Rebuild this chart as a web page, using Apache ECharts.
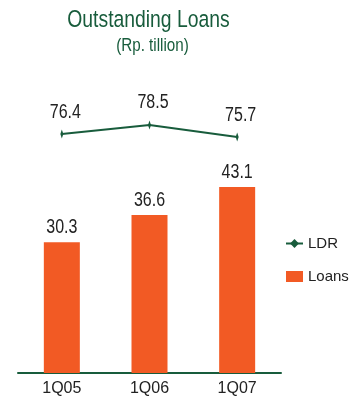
<!DOCTYPE html>
<html>
<head>
<meta charset="utf-8">
<script src="https://cdn.jsdelivr.net/npm/echarts@6/dist/echarts.min.js"></script>
<style>
html,body{margin:0;padding:0;background:#fff;}
#c{width:358px;height:400px;}
</style>
</head>
<body>
<div id="c"></div>
<script>
var categories = ['1Q05', '1Q06', '1Q07'];
var loans = [30.3, 36.6, 43.1];
var ldr = [76.4, 78.5, 75.7];

var FONT = '"Liberation Sans", Arial, sans-serif';
var GREEN = '#185c3c';
var ORANGE = '#f25a24';
var NARROW = 0.8;

function labelRenderer(dx, dy) {
  return function (params, api) {
    var v = api.value(1);
    var p = api.coord([api.value(0), v]);
    return {
      type: 'text',
      x: p[0] + dx,
      y: p[1] - dy,
      scaleX: NARROW,
      style: {
        text: v.toFixed(1),
        fontFamily: FONT,
        fontSize: 20,
        fill: '#222',
        align: 'center',
        verticalAlign: 'bottom'
      }
    };
  };
}

var chart = echarts.init(document.getElementById('c'));
chart.setOption({
  animation: false,
  backgroundColor: '#fff',
  graphic: [
    { type: 'text', x: 148.5, y: 20.5, scaleX: 0.79, silent: true,
      style: { text: 'Outstanding Loans', fontFamily: FONT, fontSize: 24.5, fill: GREEN,
        align: 'center', verticalAlign: 'middle' } },
    { type: 'text', x: 152.5, y: 46, scaleX: 0.8, silent: true,
      style: { text: '(Rp. tillion)', fontFamily: FONT, fontSize: 19, fill: GREEN,
        align: 'center', verticalAlign: 'middle' } }
  ],
  legend: {
    orient: 'vertical',
    left: 285, top: 236,
    padding: 0,
    itemWidth: 17, itemHeight: 11, itemGap: 18,
    textStyle: { fontFamily: FONT, fontSize: 15, color: '#222' },
    data: [
      { name: 'LDR' },
      { name: 'Loans', icon: 'rect' }
    ]
  },
  grid: { left: 18, right: 77, top: 71, bottom: 27 },
  xAxis: {
    type: 'category',
    data: categories,
    axisLine: { show: true, lineStyle: { color: GREEN, width: 2 } },
    axisTick: { show: false },
    axisLabel: { fontFamily: FONT, fontSize: 16, color: '#222', margin: 8 }
  },
  yAxis: [
    { type: 'value', min: 0, max: 70, show: false, splitLine: { show: false } },
    { type: 'value', min: 21, max: 91, show: false, splitLine: { show: false } }
  ],
  series: [
    {
      name: 'LDR', type: 'line', yAxisIndex: 1, data: ldr,
      lineStyle: { color: GREEN, width: 2 },
      itemStyle: { color: GREEN },
      symbol: 'path://M1,0 L2,4 L1,8 L0,4 Z',
      symbolSize: [3, 9],
      z: 3
    },
    {
      name: 'Loans', type: 'bar', yAxisIndex: 0, data: loans,
      barWidth: 36,
      itemStyle: { color: ORANGE }
    },
    {
      name: 'LoansLabels', type: 'custom', yAxisIndex: 0, silent: true, z: 5,
      data: loans.map(function (v, i) { return [i, v]; }),
      renderItem: labelRenderer(0, 5)
    },
    {
      name: 'LDRLabels', type: 'custom', yAxisIndex: 1, silent: true, z: 5,
      data: ldr.map(function (v, i) { return [i, v]; }),
      renderItem: labelRenderer(3.5, 12)
    }
  ]
});
</script>
</body>
</html>
